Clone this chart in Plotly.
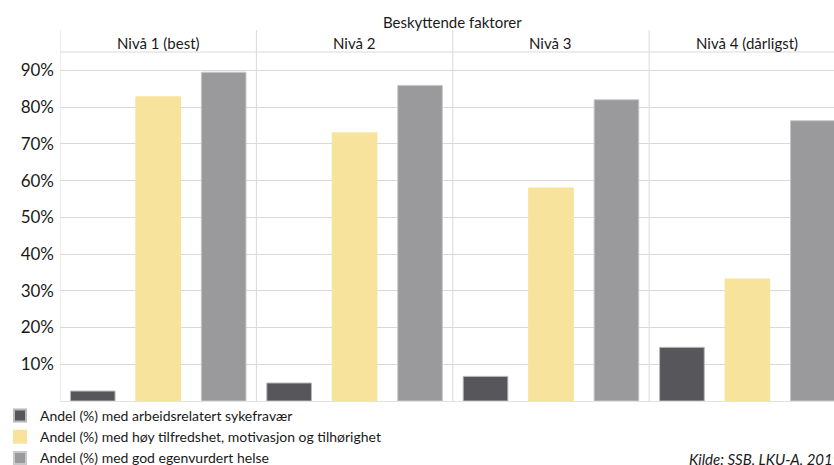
import plotly.graph_objects as go

categories = ["Nivå 1 (best)", "Nivå 2", "Nivå 3", "Nivå 4 (dårligst)"]
series_names = [
    "Andel (%) med arbeidsrelatert sykefravær",
    "Andel (%) med høy tilfredshet, motivasjon og tilhørighet",
    "Andel (%) med god egenvurdert helse",
]
sykefravaer = [2.7, 4.9, 6.7, 14.6]
tilfredshet = [82.8, 73.0, 58.0, 33.2]
helse = [89.5, 85.9, 82.0, 76.3]
tick_values = [10, 20, 30, 40, 50, 60, 70, 80, 90]
tick_labels = ["10%", "20%", "30%", "40%", "50%", "60%", "70%", "80%", "90%"]
title_text = "Beskyttende faktorer"
source_text = "<i>Kilde: SSB, LKU-A, 2019</i>"

colors = ["#56565b", "#f7e39b", "#9a9a9c"]
line_colors = ["#b8b8bc", "#f7e39b", "#c8c8ca"]
FONT = "Lato"
GRID = "#d9d9d9"

fig = go.Figure()
xs = list(range(len(categories)))
for name, vals, c, lc in zip(series_names, [sykefravaer, tilfredshet, helse], colors, line_colors):
    fig.add_trace(go.Bar(
        x=xs, y=vals, name=name,
        marker=dict(color=c, line=dict(color=lc, width=1)),
    ))

top_sep = 1.063
shapes = []
for i in range(len(categories)):
    shapes.append(dict(type="line", xref="x", yref="paper",
                       x0=i - 0.5, x1=i - 0.5, y0=0, y1=top_sep,
                       line=dict(color=GRID, width=1)))
shapes.append(dict(type="line", xref="paper", yref="paper",
                   x0=0, x1=1, y0=1, y1=1, line=dict(color=GRID, width=1)))

annotations = []
for i, cat in enumerate(categories):
    annotations.append(dict(text=cat, x=i, xref="x", y=1.0258, yref="paper",
                            xanchor="center", yanchor="middle", showarrow=False,
                            font=dict(family=FONT, size=15, color="#1a1a1a")))
annotations.append(dict(text=title_text, x=1.5, xref="x", y=1.0868, yref="paper",
                        xanchor="center", yanchor="middle", showarrow=False,
                        font=dict(family=FONT, size=15, color="#1a1a1a")))
annotations.append(dict(text=source_text, x=(687 - 60) / 774, xref="paper", y=-0.166, yref="paper",
                        xanchor="left", yanchor="middle", showarrow=False,
                        font=dict(family=FONT, size=15, color="#1a1a1a")))

fig.update_layout(
    width=834, height=465,
    margin=dict(l=60, r=0, t=52, b=64, autoexpand=False),
    paper_bgcolor="white", plot_bgcolor="white",
    barmode="group", bargap=0, bargroupgap=0.318,
    font=dict(family=FONT, color="#1a1a1a"),
    showlegend=True,
    legend=dict(orientation="v", xref="container", yref="container",
                x=0, xanchor="left", y=0.1398, yanchor="top",
                font=dict(family=FONT, size=14, color="#1a1a1a"),
                itemsizing="constant", tracegroupgap=0,
                bgcolor="rgba(0,0,0,0)"),
    shapes=shapes,
    annotations=annotations,
)
fig.update_xaxes(range=[-0.5, 3.441], showticklabels=False, showgrid=False,
                 zeroline=False, showline=True, linecolor="#e3e3e3", linewidth=1,
                 ticks="", fixedrange=True)
fig.update_yaxes(range=[0, 95], tickvals=tick_values, ticktext=tick_labels,
                 showgrid=True, gridcolor=GRID, gridwidth=1, zeroline=False,
                 showline=False, ticks="", ticklabelstandoff=5,
                 tickfont=dict(family=FONT, size=17, color="#1a1a1a"))

fig.write_html("out.html")
